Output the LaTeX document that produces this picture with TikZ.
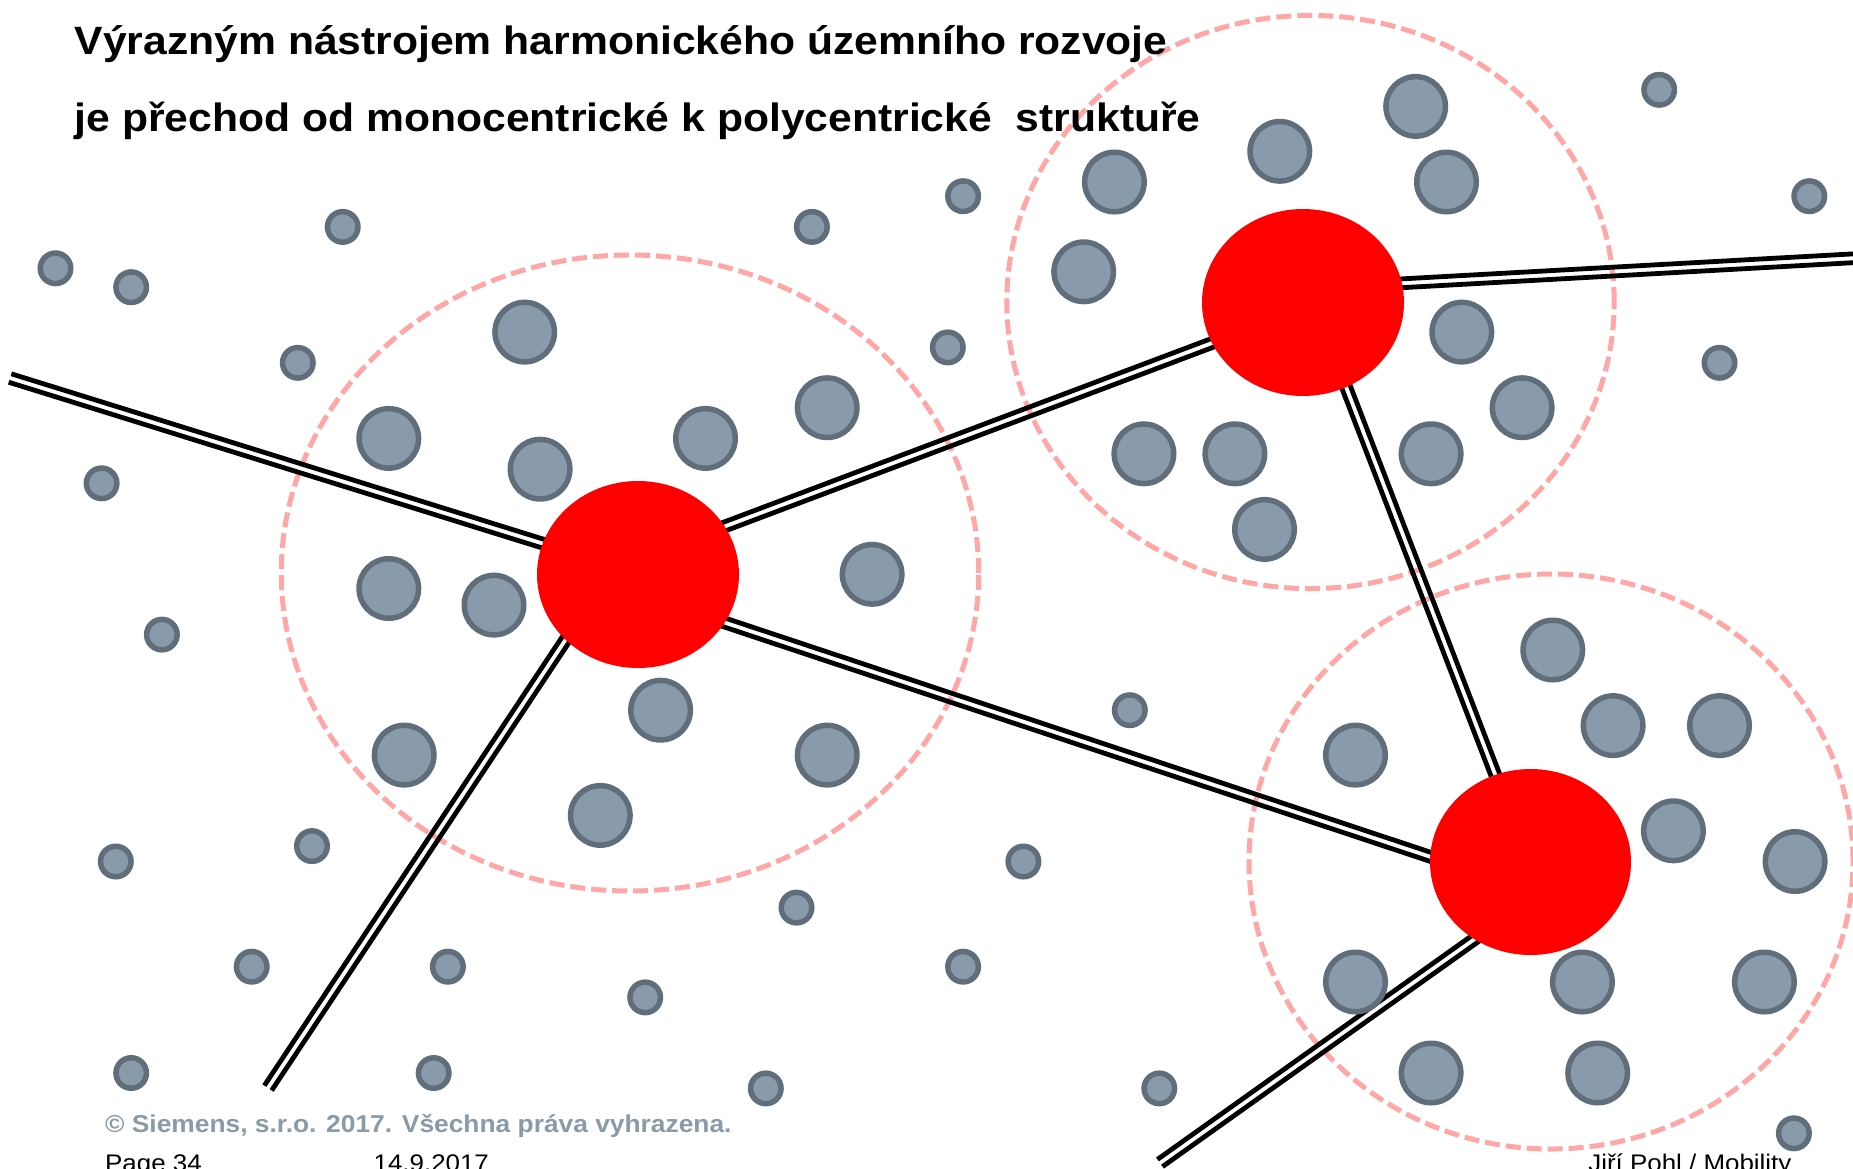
\documentclass[tikz,border=0pt]{standalone}
\usepackage{fontspec}
\setmainfont{Liberation Sans}
\usetikzlibrary{shapes.geometric,calc}
\pgfdeclarelayer{bg}
\pgfsetlayers{bg,main}
\definecolor{dotfill}{HTML}{899BAA}
\definecolor{dotline}{HTML}{5F6E7A}
\definecolor{zonecol}{HTML}{FFA6A6}
\definecolor{hubred}{HTML}{FF0000}
\definecolor{copygray}{HTML}{8A9BA8}
\newcommand\roadpair[4]{%
  \draw[roadline, shorten <=#3, shorten >=#4] ($(#1)!4.4pt!90:(#2)$) -- ($(#2)!4.4pt!-90:(#1)$);
  \draw[roadline, shorten <=#3, shorten >=#4] ($(#1)!4.4pt!-90:(#2)$) -- ($(#2)!4.4pt!90:(#1)$);}
\begin{document}
\begin{tikzpicture}[x=1pt,y=-1pt,
  hub/.style={ellipse, fill=hubred, draw=none, minimum width=202pt, minimum height=187pt, inner sep=0pt, outer sep=0pt},
  zone/.style={draw=zonecol, line width=5pt, dash pattern=on 15pt off 6pt},
  roadline/.style={draw=black, line width=4.8pt},
  dot/.style={fill=dotfill, draw=dotline, line width=5.5pt},
  titletext/.style={anchor=base west, inner sep=0pt, font=\bfseries\fontsize{39.5}{47}\selectfont},
  foot/.style={inner sep=0pt, font=\fontsize{24}{29}\selectfont}]
\useasboundingbox (0,0) rectangle (1853,1168);

% hubs
\node[hub] (A) at (638,574.5) {};
\node[hub] (B) at (1303,302.5) {};
\node[hub, minimum width=201pt, minimum height=186pt] (C) at (1530.5,862) {};

% free ends of the roads
\coordinate (wA) at (10,378);
\coordinate (swA) at (268,1088);
\coordinate (eB) at (1858,258);
\coordinate (sC) at (1160,1163);

\begin{pgfonlayer}{bg}
  \fill[white] (0,0) rectangle (1853,1168);
  \draw[zone] (630,573) ellipse[x radius=348.7pt, y radius=318pt];
  \draw[zone] (1310.5,302) ellipse[x radius=303.7pt, y radius=286.6pt];
  \draw[zone] (1551,861.5) ellipse[x radius=302pt, y radius=287.5pt];
  \roadpair{wA}{A.162.5}{0pt}{-6pt}
  \roadpair{swA}{A.222.7}{0pt}{-6pt}
  \roadpair{A.29.5}{B.204.2}{-6pt}{-6pt}
  \roadpair{A.331.6}{C.177.7}{-6pt}{-6pt}
  \roadpair{B.11.1}{eB}{-6pt}{0pt}
  \roadpair{B.297.3}{C.112.7}{-6pt}{-6pt}
  \roadpair{C.234.6}{sC}{-6pt}{0pt}
\end{pgfonlayer}

% small settlements
\foreach \x/\y in {55.5/268.3, 131.2/287.2, 342.7/226.9, 297.8/362.8, 101.6/483.3,
  161.9/634.6, 115.8/861.5, 312.0/846.1, 251.7/966.7, 447.9/966.7, 131.2/1073.0,
  433.7/1073.0, 645.2/997.4, 765.8/1088.4, 796.5/907.6, 963.1/966.7, 1023.4/861.5,
  1129.8/710.2, 1159.3/1088.4, 947.8/347.4, 811.9/226.9, 963.1/196.2, 1659.2/89.8,
  1809.3/196.2, 1719.5/362.8, 1793.9/1133.3}
  \draw[dot] (\x,\y) circle[radius=15.25pt];

% larger settlements
\foreach \x/\y in {524.7/332.1, 388.8/438.4, 540.1/469.2, 705.5/438.4, 827.2/407.7,
  388.8/588.5, 494.0/605.1, 872.1/574.3, 404.2/755.1, 660.6/710.2, 600.3/815.4,
  827.2/755.1,
  1415.7/106.4, 1279.8/151.3, 1114.4/182.0, 1446.5/182.0, 1083.7/271.8,
  1461.8/332.1, 1522.1/407.7, 1143.9/453.8, 1234.9/453.8, 1431.1/453.8, 1264.5/529.4,
  1552.8/650.0, 1613.1/725.6, 1719.5/725.6, 1355.5/755.1, 1673.4/830.8, 1795.1/861.5,
  1355.5/982.0, 1582.4/982.0, 1764.4/982.0, 1431.1/1073.0, 1597.7/1073.0}
  \draw[dot] (\x,\y) circle[radius=29.75pt];

% texts
\node[titletext] (t1) at (74.5,54) {\scalebox{1.08}[1]{Výrazným nástrojem harmonického územního rozvoje}};
\node[titletext] (t2) at (74.5,131) {\scalebox{1.08}[1]{je přechod od monocentrické k polycentrické~ struktuře}};
\node[anchor=base west, inner sep=0pt, text=copygray, font=\bfseries\fontsize{24.4}{29}\selectfont] (copy) at (105,1132)
  {\scalebox{1.08}[1]{© Siemens, s.r.o. 2017. Všechna práva vyhrazena.}};
\node[foot, anchor=base west] (page) at (105,1171) {\scalebox{1.08}[1]{Page 34}};
\node[foot, anchor=base west] (date) at (373.4,1171) {\scalebox{1.08}[1]{14.9.2017}};
\node[foot, anchor=base east] (auth) at (1791.6,1171) {\scalebox{1.08}[1]{Jiří Pohl / Mobility}};
\end{tikzpicture}
\end{document}
